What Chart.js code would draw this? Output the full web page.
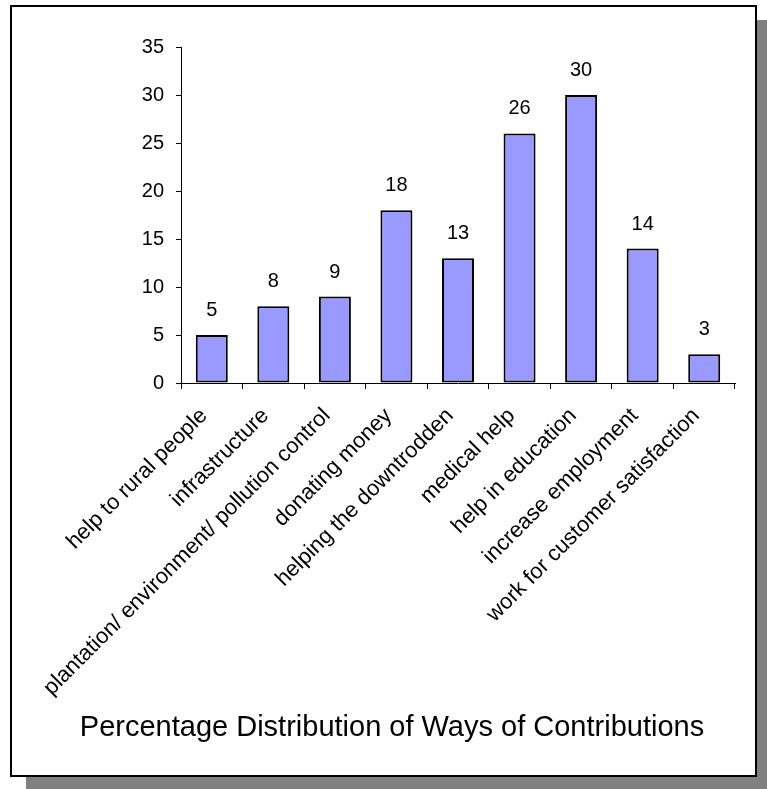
<!DOCTYPE html>
<html>
<head>
<meta charset="utf-8">
<title>Percentage Distribution of Ways of Contributions</title>
<script src="https://cdn.jsdelivr.net/npm/chart.js@4.4.1/dist/chart.umd.min.js"></script>
<style>
  html, body { margin: 0; padding: 0; background: #ffffff; }
  canvas { display: block; }
</style>
</head>
<body>
<canvas id="chart" width="767" height="789"></canvas>
<script>
// Ways of contributing and the share (%) of respondents naming each
const categories = [
  'help to rural people',
  'infrastructure',
  'plantation/ environment/ pollution control',
  'donating money',
  'helping the downtrodden',
  'medical help',
  'help in education',
  'increase employment',
  'work for customer satisfaction'
];
const percentages = [5, 8, 9, 18, 13, 26, 30, 14, 3];
const yTicks = [0, 5, 10, 15, 20, 25, 30, 35];
const chartTitle = 'Percentage Distribution of Ways of Contributions';

const FONT = "'Liberation Sans', Arial, Helvetica, sans-serif";

// Framed panel with a drop shadow behind the whole chart
const framePlugin = {
  id: 'frame',
  beforeDraw(chart) {
    const ctx = chart.ctx;
    ctx.save();
    ctx.fillStyle = '#ffffff';
    ctx.fillRect(0, 0, chart.width, chart.height);
    ctx.fillStyle = '#808080';
    ctx.fillRect(26, 20, 741, 769);
    ctx.fillStyle = '#ffffff';
    ctx.fillRect(10, 5, 747, 772);
    ctx.strokeStyle = '#000000';
    ctx.lineWidth = 2;
    ctx.strokeRect(11, 6, 745, 770);
    ctx.restore();
  }
};

// Value printed above each bar
const valueLabels = {
  id: 'valueLabels',
  afterDatasetsDraw(chart) {
    const ctx = chart.ctx;
    const meta = chart.getDatasetMeta(0);
    ctx.save();
    ctx.font = '20px ' + FONT;
    ctx.fillStyle = '#000000';
    ctx.textAlign = 'center';
    ctx.textBaseline = 'alphabetic';
    meta.data.forEach((bar, i) => {
      ctx.fillText(String(percentages[i]), bar.x, bar.y - 19);
    });
    ctx.restore();
  }
};

// Caption under the axis labels
const caption = {
  id: 'caption',
  afterDraw(chart) {
    const ctx = chart.ctx;
    ctx.save();
    ctx.font = '29px ' + FONT;
    ctx.fillStyle = '#000000';
    ctx.textAlign = 'center';
    ctx.textBaseline = 'alphabetic';
    ctx.fillText(chartTitle, 392, 736);
    ctx.restore();
  }
};

new Chart(document.getElementById('chart'), {
  type: 'bar',
  data: {
    labels: categories,
    datasets: [{
      data: percentages,
      backgroundColor: '#9999ff',
      borderColor: '#000000',
      borderWidth: 2,
      borderSkipped: false,
      categoryPercentage: 1,
      barPercentage: 0.52
    }]
  },
  options: {
    responsive: false,
    animation: false,
    devicePixelRatio: 1,
    layout: { padding: { top: 47, right: 32, bottom: 0, left: 0 } },
    plugins: {
      legend: { display: false },
      tooltip: { enabled: false },
      title: { display: false }
    },
    scales: {
      x: {
        grid: {
          offset: true,
          drawOnChartArea: false,
          drawTicks: true,
          tickLength: 6,
          color: '#000000'
        },
        border: { display: true, color: '#000000', width: 1 },
        ticks: {
          color: '#000000',
          font: { family: FONT, size: 22 },
          minRotation: 45,
          maxRotation: 45,
          autoSkip: false,
          labelOffset: -8,
          padding: 14
        },
        afterFit(scale) { scale.height = 406; }
      },
      y: {
        min: 0,
        max: 35,
        afterBuildTicks(scale) {
          scale.ticks = yTicks.map(v => ({ value: v }));
        },
        grid: {
          drawOnChartArea: false,
          drawTicks: true,
          tickLength: 5,
          color: '#000000'
        },
        border: { display: true, color: '#000000', width: 1 },
        ticks: {
          color: '#000000',
          font: { family: FONT, size: 20 },
          padding: 12
        },
        afterFit(scale) { scale.width = 181; }
      }
    }
  },
  plugins: [framePlugin, valueLabels, caption]
});
</script>
</body>
</html>
